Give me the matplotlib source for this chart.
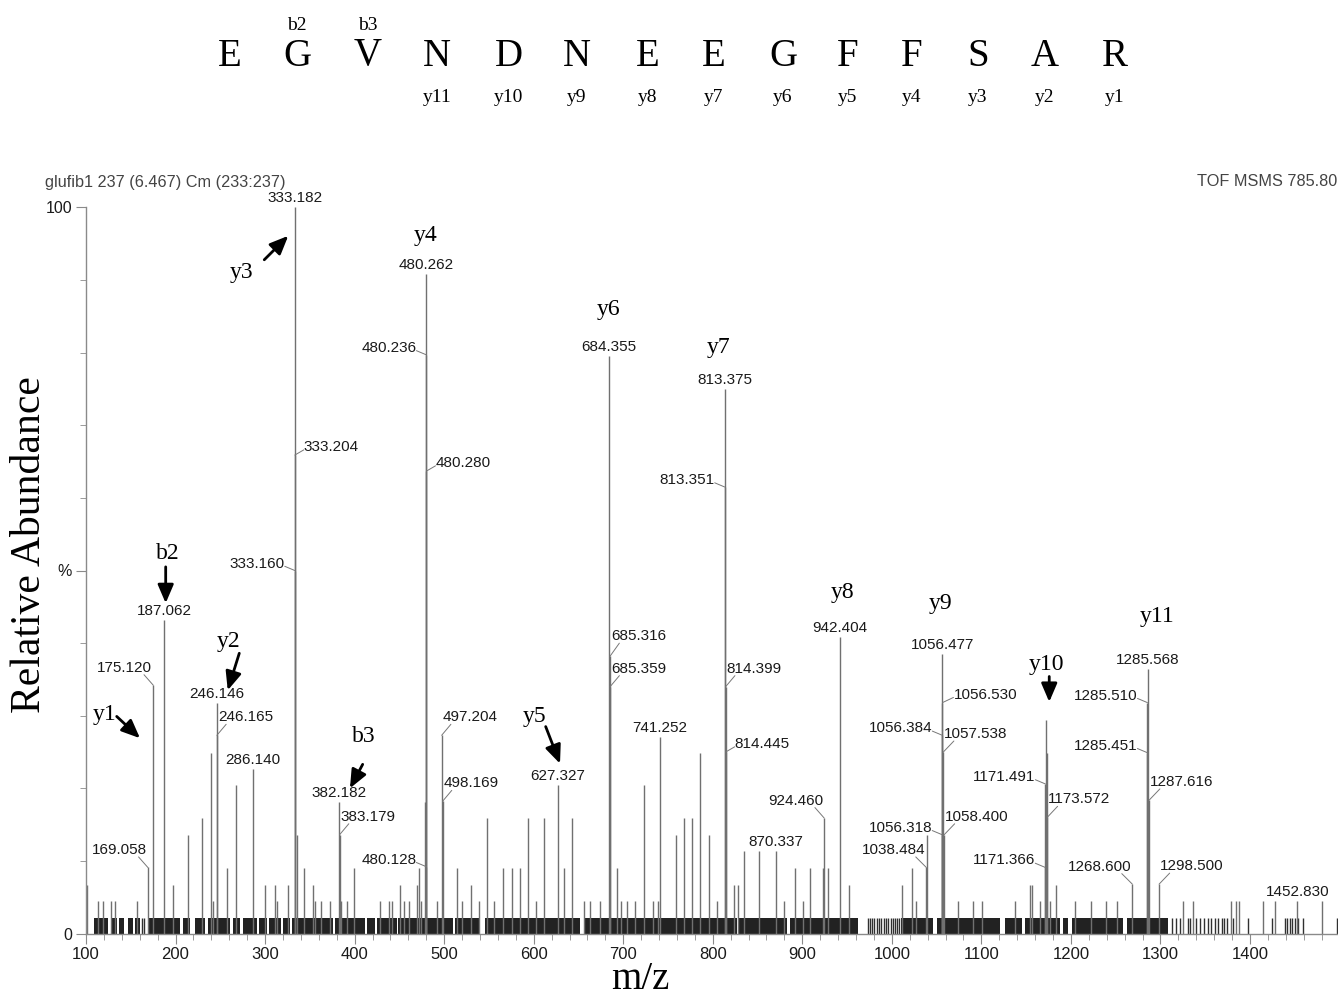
import matplotlib
matplotlib.use("Agg")
import matplotlib.pyplot as plt

# MS/MS spectrum of EGVNDNEEGFFSAR
# x: m/z, y: relative abundance in %

sequence = ["E", "G", "V", "N", "D", "N", "E", "E", "G", "F", "F", "S", "A", "R"]
b_ion_names = ["", "b2", "b3", "", "", "", "", "", "", "", "", "", "", ""]
y_ion_names = ["", "", "", "y11", "y10", "y9", "y8", "y7", "y6", "y5", "y4", "y3", "y2", "y1"]

# labelled centroids (label text is the m/z) and their heights
labeled_mz = ["169.058", "175.120", "187.062", "246.146", "246.165", "286.140",
              "333.182", "333.204", "333.160", "382.182", "383.179",
              "480.262", "480.236", "480.280", "480.128", "497.204", "498.169",
              "627.327", "684.355", "685.316", "685.359", "741.252",
              "813.375", "813.351", "814.399", "814.445", "870.337", "924.460",
              "942.404", "1038.484", "1056.477", "1056.530", "1056.384",
              "1057.538", "1056.318", "1058.400", "1171.491", "1173.572",
              "1171.366", "1268.600", "1285.568", "1285.510", "1285.451",
              "1287.616", "1298.500", "1452.830"]
labeled_pct = [9.1, 34.2, 43.2, 31.8, 27.3, 22.6,
               100.0, 65.9, 50.0, 18.1, 13.6,
               90.8, 79.7, 63.7, 9.2, 27.3, 18.2,
               20.4, 79.5, 38.2, 34.0, 27.1,
               75.0, 61.5, 34.0, 25.0, 11.3, 15.9,
               40.8, 9.1, 38.5, 31.8, 27.3,
               25.0, 13.6, 13.6, 20.6, 16.0,
               9.1, 6.8, 36.4, 31.8, 24.9,
               18.4, 6.8, 4.5]

# unlabelled peaks above the noise
peak_mz = [101.0, 113.8, 118.6, 127.9, 132.4, 156.6, 197.5, 213.5, 229.2, 239.2,
           241.5, 257.1, 267.0, 300.2, 310.7, 313.0, 325.9, 336.0, 343.5, 353.9,
           356.0, 362.0, 372.5, 385.0, 392.0, 399.3, 428.5, 438.0, 442.0, 450.7,
           455.0, 461.0, 469.3, 472.2, 474.5, 478.3, 491.6, 514.3, 520.0, 529.6,
           539.0, 548.2, 556.0, 566.1, 575.8, 584.7, 594.0, 603.0, 611.5, 634.0,
           642.6, 656.0, 663.0, 674.0, 692.6, 698.0, 704.0, 713.0, 723.0, 733.0,
           739.0, 759.2, 768.0, 776.6, 785.7, 795.4, 805.0, 823.7, 828.0, 834.5,
           851.7, 880.0, 891.8, 901.0, 908.6, 923.5, 928.2, 952.3, 1011.3, 1022.3,
           1027.0, 1038.8, 1074.0, 1091.0, 1100.3, 1137.5, 1153.8, 1156.0, 1165.0, 1172.0,
           1173.0, 1177.0, 1182.9, 1204.5, 1222.0, 1239.2, 1251.1, 1325.5, 1336.7, 1378.4,
           1384.4, 1387.7, 1414.9, 1427.9, 1480.0]
peak_pct = [6.7, 4.5, 4.5, 4.5, 4.5, 4.5, 6.7, 13.6, 15.9, 24.9,
            4.5, 9.0, 20.4, 6.7, 6.7, 4.5, 6.7, 13.6, 9.0, 6.7,
            4.5, 4.5, 4.5, 4.5, 4.5, 9.0, 4.5, 4.5, 4.5, 6.7,
            4.5, 4.5, 6.7, 9.0, 4.5, 18.1, 4.5, 9.0, 4.5, 6.7,
            4.5, 15.9, 4.5, 9.0, 9.0, 9.0, 15.9, 4.5, 15.9, 9.0,
            15.9, 4.5, 4.5, 4.5, 9.0, 4.5, 4.5, 4.5, 20.4, 4.5,
            4.5, 13.6, 15.9, 15.9, 24.9, 13.6, 4.5, 6.7, 6.7, 11.3,
            11.3, 4.5, 9.0, 4.5, 9.0, 9.0, 9.0, 6.7, 6.7, 9.0,
            4.5, 13.6, 4.5, 4.5, 4.5, 4.5, 6.7, 6.7, 4.5, 29.4,
            24.9, 4.5, 6.7, 4.5, 4.5, 4.5, 4.5, 4.5, 4.5, 4.5,
            4.5, 4.5, 4.5, 4.5, 4.5]

# dense single-count noise (m/z ranges) and isolated noise spikes
noise_level = 2.2
noise_spans = [(109, 124.9), (127.6, 134.2), (136.9, 142.4), (146.6, 152.1), (155.1, 160.3),
               (170.7, 205), (208, 216.1), (221.7, 232.9), (236.6, 260.8), (263.8, 272),
               (275, 290.6), (293.5, 301.7), (304.7, 317.8), (320.4, 327.8), (330.1, 376.2),
               (378.1, 411.6), (413.5, 422.8), (424.7, 447), (448.8, 510.2), (512.1, 540),
               (545.6, 651.7), (656.2, 826.6), (829.3, 882.5), (886.2, 962.5), (1010, 1046.3),
               (1050.1, 1120.8), (1126.4, 1144.9), (1148.6, 1187.8), (1191.5, 1197.1),
               (1200.8, 1258.5), (1262.3, 1308.7)]
noise_mz = [162.0, 165.0, 973.0, 975.5, 978.0, 980.0, 983.0, 986.0, 988.0, 991.0,
            994.0, 996.0, 999.0, 1001.0, 1004.0, 1006.0, 1008.0, 1312.5, 1317.3, 1321.8,
            1330.4, 1332.9, 1339.7, 1344.1, 1348.6, 1353.4, 1356.4, 1360.9, 1364.6, 1368.4,
            1371.3, 1374.6, 1381.3, 1398.1, 1424.2, 1439.1, 1441.6, 1444.7, 1447.2, 1450.2,
            1453.9, 1459.5, 1496.8]

# fragment-ion call-outs: (text, text pos, arrow tail, arrow tip) in m/z, %
ion_callouts = [("y1", (121.2, 30.1), (134.3, 29.9), (160.3, 26.9)),
                ("b2", (191.6, 52.3), (189.0, 50.5), (189.0, 45.5)),
                ("y2", (259.7, 40.2), (271.2, 38.6), (258.3, 33.5)),
                ("y3", (273.9, 91.0), (299.1, 92.8), (325.9, 96.1)),
                ("b3", (410.5, 27.1), (409.0, 23.3), (394.8, 20.0)),
                ("y4", (479.7, 96.1), None, None),
                ("y5", (601.4, 29.9), (613.4, 28.5), (629.4, 23.4)),
                ("y6", (684.1, 86.0), None, None),
                ("y7", (806.9, 80.7), None, None),
                ("y8", (945.4, 47.0), None, None),
                ("y9", (1054.9, 45.4), None, None),
                ("y10", (1172.9, 37.0), (1175.8, 35.4), (1175.8, 31.9)),
                ("y11", (1296.1, 43.6), None, None)]

# label placement: offsets in pixels, alignment, leader start on text box
label_styles = {
    "top": (0, 9, "center", None),
    "L": (-10, 7, "right", (1.0, 0.3)),
    "R": (9, 8, "left", (0.0, 0.3)),
    "LU": (-1, 17.5, "right", (0.85, 0.0)),
    "RU": (1, 18, "left", (0.15, 0.0)),
}
label_place = {
    "169.058": "LU", "175.120": "LU", "187.062": "top", "246.146": "top", "246.165": "RU",
    "286.140": "top", "333.182": "top", "333.204": "R", "333.160": "L", "382.182": "top",
    "383.179": "RU", "480.262": "top", "480.236": "L", "480.280": "R", "480.128": "L",
    "497.204": "RU", "498.169": "RU", "627.327": "top", "684.355": "top", "685.316": "RU",
    "685.359": "RU", "741.252": "top", "813.375": "top", "813.351": "L", "814.399": "RU",
    "814.445": "R", "870.337": "top", "924.460": "LU", "942.404": "top", "1038.484": "LU",
    "1056.477": "top", "1056.530": "R", "1056.384": "L", "1057.538": "RU", "1056.318": "L",
    "1058.400": "RU", "1171.491": "L", "1173.572": "RU", "1171.366": "L", "1268.600": "LU",
    "1285.568": "top", "1285.510": "L", "1285.451": "L", "1287.616": "RU", "1298.500": "RU",
    "1452.830": "top",
}

W, H = 1338, 999
PT = 0.72  # points per pixel at dpi 100
SANS = ["Liberation Sans", "DejaVu Sans"]
SERIF = ["Liberation Serif", "DejaVu Serif"]
LINE = "#707070"
TXT = "#1a1a1a"

fig = plt.figure(figsize=(W / 100, H / 100), dpi=100)
ax = fig.add_axes([86 / W, 1 - 933.5 / H, (W - 86) / W, 726 / H])
ax.set_xlim(100, 1498.3)
ax.set_ylim(0, 100)

# noise floor
ax.broken_barh([(a, b - a) for a, b in noise_spans], (0, noise_level),
               facecolors="#222222", edgecolor="none")
ax.vlines(noise_mz, 0, noise_level, color="#303030", lw=1.0)

# peaks
ax.vlines(peak_mz, 0, peak_pct, color=LINE, lw=1.0)
ax.vlines([float(t) for t in labeled_mz], 0, labeled_pct, color=LINE, lw=1.0)

# centroid labels
for txt, h in zip(labeled_mz, labeled_pct):
    dx, dy, ha, rel = label_styles[label_place[txt]]
    if txt == "1056.530":
        dx = 11
    if txt == "685.316":
        dy = 20
    kw = dict(xytext=(dx * PT, dy * PT), textcoords="offset points",
              ha=ha, va="center", fontsize=11, family=SANS, color=TXT)
    if rel is not None:
        kw["arrowprops"] = dict(arrowstyle="-", color="#777777", lw=0.7,
                                shrinkA=0, shrinkB=0, patchA=None, relpos=rel)
    ax.annotate(txt, (float(txt), h), **kw)

# ion call-outs
for name, tpos, tail, tip in ion_callouts:
    ax.text(tpos[0], tpos[1], name, ha="center", va="center", fontsize=17,
            family=SERIF, color="black")
    if tail is not None:
        ax.annotate("", xy=tip, xytext=tail,
                    arrowprops=dict(arrowstyle="-|>,head_length=0.7,head_width=0.3",
                                    color="black", lw=2, shrinkA=0, shrinkB=0,
                                    mutation_scale=16))

# axes styling
for s in ["top", "right"]:
    ax.spines[s].set_visible(False)
for s in ["left", "bottom"]:
    ax.spines[s].set_color("#8a8a8a")
    ax.spines[s].set_linewidth(1.0)
ax.set_xticks(range(100, 1500, 100))
ax.set_xticks(range(100, 1500, 20), minor=True)
ax.set_yticks([0, 50, 100])
ax.set_yticklabels(["0", "%", "100"])
ax.set_yticks(range(0, 101, 10), minor=True)
ax.tick_params(which="major", length=7, color="#8a8a8a", labelcolor=TXT, pad=3)
ax.tick_params(axis="x", which="major", labelsize=12)
ax.tick_params(axis="y", which="major", labelsize=11.5)
ax.tick_params(which="minor", length=4, color="#8a8a8a")
for lab in ax.get_xticklabels() + ax.get_yticklabels():
    lab.set_family(SANS)

# header, axis titles
fig.text(45 / W, 1 - 183 / H, "glufib1 237 (6.467) Cm (233:237)", fontsize=11.7,
         family=SANS, color="#444444", ha="left", va="center")
fig.text(1337 / W, 1 - 182 / H, "TOF MSMS 785.80", fontsize=11.7,
         family=SANS, color="#444444", ha="right", va="center")
fig.text(30 / W, 1 - 545 / H, "Relative Abundance", rotation=90, fontsize=30,
         family=SERIF, ha="center", va="center")
fig.text(640 / W, 1 - 989 / H, "m/z", fontsize=28, family=SERIF,
         ha="center", va="baseline")

# peptide sequence with fragment positions
seq_x = [230, 297, 368, 437, 509, 577, 648, 714, 783, 848, 912, 978, 1045, 1115]
for x, aa, b, y in zip(seq_x, sequence, b_ion_names, y_ion_names):
    fig.text(x / W, 1 - 56 / H, aa, fontsize=28, family=SERIF, ha="center", va="center")
    if b:
        fig.text(x / W, 1 - 25 / H, b, fontsize=14, family=SERIF, ha="center", va="center")
    if y:
        fig.text(x / W, 1 - 98 / H, y, fontsize=14, family=SERIF, ha="center", va="center")

fig.savefig("out.png", dpi=100)
